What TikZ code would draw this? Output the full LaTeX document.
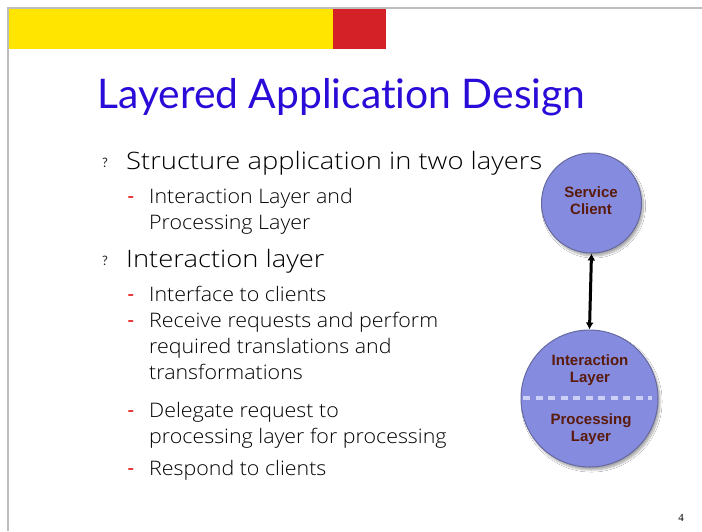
\documentclass[tikz,border=0pt]{standalone}
\usepackage{fontspec}
\setmainfont{Lato}[Ligatures=NoCommon]
\newfontfamily\topfont{Open Sans Light}[Ligatures=NoCommon, FakeStretch=1.14]
\newfontfamily\subfont{Open Sans Light}[Ligatures=NoCommon, FakeStretch=1.07]
\newfontfamily\labelfont{Liberation Sans}
\newfontfamily\numfont{Liberation Serif}
\usetikzlibrary{arrows.meta,shadows.blur}

\definecolor{barYellow}{HTML}{FFE500}
\definecolor{barRed}{HTML}{D42027}
\definecolor{frameGray}{HTML}{BDBDBD}
\definecolor{titleBlue}{HTML}{2A0CD8}
\definecolor{dashRed}{HTML}{E00000}
\definecolor{discIn}{HTML}{858CDF}
\definecolor{discOut}{HTML}{6A70C4}
\definecolor{discRim}{HTML}{4B4F8F}
\definecolor{labelBrown}{HTML}{5A1A0C}
\definecolor{splitLine}{HTML}{CDD0F6}
\definecolor{bodyText}{HTML}{000000}

\pgfdeclareradialshading{discshade}{\pgfpoint{0bp}{0bp}}{%
  color(0bp)=(discIn); color(38bp)=(discIn); color(49bp)=(discOut); color(50bp)=(discOut)}

\tikzset{
  headline/.style={anchor=base west, inner sep=0, text=titleBlue,
    font=\fontsize{40.8}{40.8}\selectfont},
  toppoint/.style={anchor=base west, inner sep=0, text=bodyText,
    font=\topfont\fontsize{24}{24}\selectfont},
  subpoint/.style={anchor=base west, inner sep=0, text=bodyText,
    font=\subfont\fontsize{20}{20}\selectfont},
  qmark/.style={anchor=base west, inner sep=0, text=black!85,
    font=\fontsize{13}{13}\selectfont},
  reddash/.style={anchor=base west, inner sep=0, text=dashRed,
    font=\fontsize{20}{20}\selectfont},
  disc/.style={circle, inner sep=0, shading=discshade, draw=discRim!85,
    line width=1,
    blur shadow={shadow blur steps=8, shadow xshift=2pt, shadow yshift=-3pt,
      shadow opacity=35}},
  disclabel/.style={inner sep=0, text=labelBrown, align=center,
    font=\labelfont\bfseries\fontsize{15}{17}\selectfont},
  link/.style={draw=black, line width=3,
    {Latex[length=7,width=8]}-{Latex[length=7,width=8]}},
  splitdash/.style={draw=splitLine, line width=3.2, dash pattern=on 7 off 5.5},
}

\begin{document}
\begin{tikzpicture}[x=1pt,y=-1pt]
  \useasboundingbox (0,0) rectangle (702,531);
  \fill[white] (0,0) rectangle (702,531);

  % header frame and colour bars
  \fill[barYellow] (8.5,9) rectangle (333,49);
  \fill[barRed] (333,9) rectangle (386,49);
  \draw[frameGray, line width=1.5] (702,7.8) -- (8,7.8) -- (8,531);

  % title
  \node[headline] (title) at (97,108) {Layered Application Design};

  % bullet list
  \node[qmark] (q1) at (102,167) {?};
  \node[toppoint] (p1) at (126,169) {Structure application in two layers};
  \node[reddash] (d1) at (127,203) {-};
  \node[subpoint] (p1a) at (149,203) {Interaction Layer and};
  \node[subpoint] (p1b) at (149,229) {Processing Layer};

  \node[qmark] (q2) at (102,265) {?};
  \node[toppoint] (p2) at (126,267) {Interaction layer};
  \node[reddash] (d2) at (127,301) {-};
  \node[subpoint] (p2a) at (149,301) {Interface to clients};
  \node[reddash] (d3) at (127,327) {-};
  \node[subpoint] (p2b) at (149,327) {Receive requests and perform};
  \node[subpoint] (p2c) at (149,353) {required translations and};
  \node[subpoint] (p2d) at (149,379) {transformations};
  \node[reddash] (d4) at (127,417) {-};
  \node[subpoint] (p2e) at (149,417) {Delegate request to};
  \node[subpoint] (p2f) at (149,443) {processing layer for processing};
  \node[reddash] (d5) at (127,475) {-};
  \node[subpoint] (p2g) at (149,475) {Respond to clients};

  % layer diagram
  \node[disc, minimum size=100] (client) at (591.5,203) {};
  \node[disc, minimum size=137] (layers) at (589.5,398.5) {};
  \node[disclabel] (clientlbl) at (591,201) {Service\\Client};
  \node[disclabel] (interlbl) at (590,370) {Interaction\\Layer};
  \node[disclabel] (proclbl) at (591,429) {Processing\\Layer};

  \coordinate (splitL) at (523,398);
  \coordinate (splitR) at (652,398);
  \draw[splitdash] (splitL) -- (splitR);

  \draw[link] (client.south) -- (layers.north);

  % page number
  \node[anchor=base, inner sep=0, font=\numfont\fontsize{11}{11}\selectfont]
    (pageno) at (681,521) {4};
\end{tikzpicture}
\end{document}
